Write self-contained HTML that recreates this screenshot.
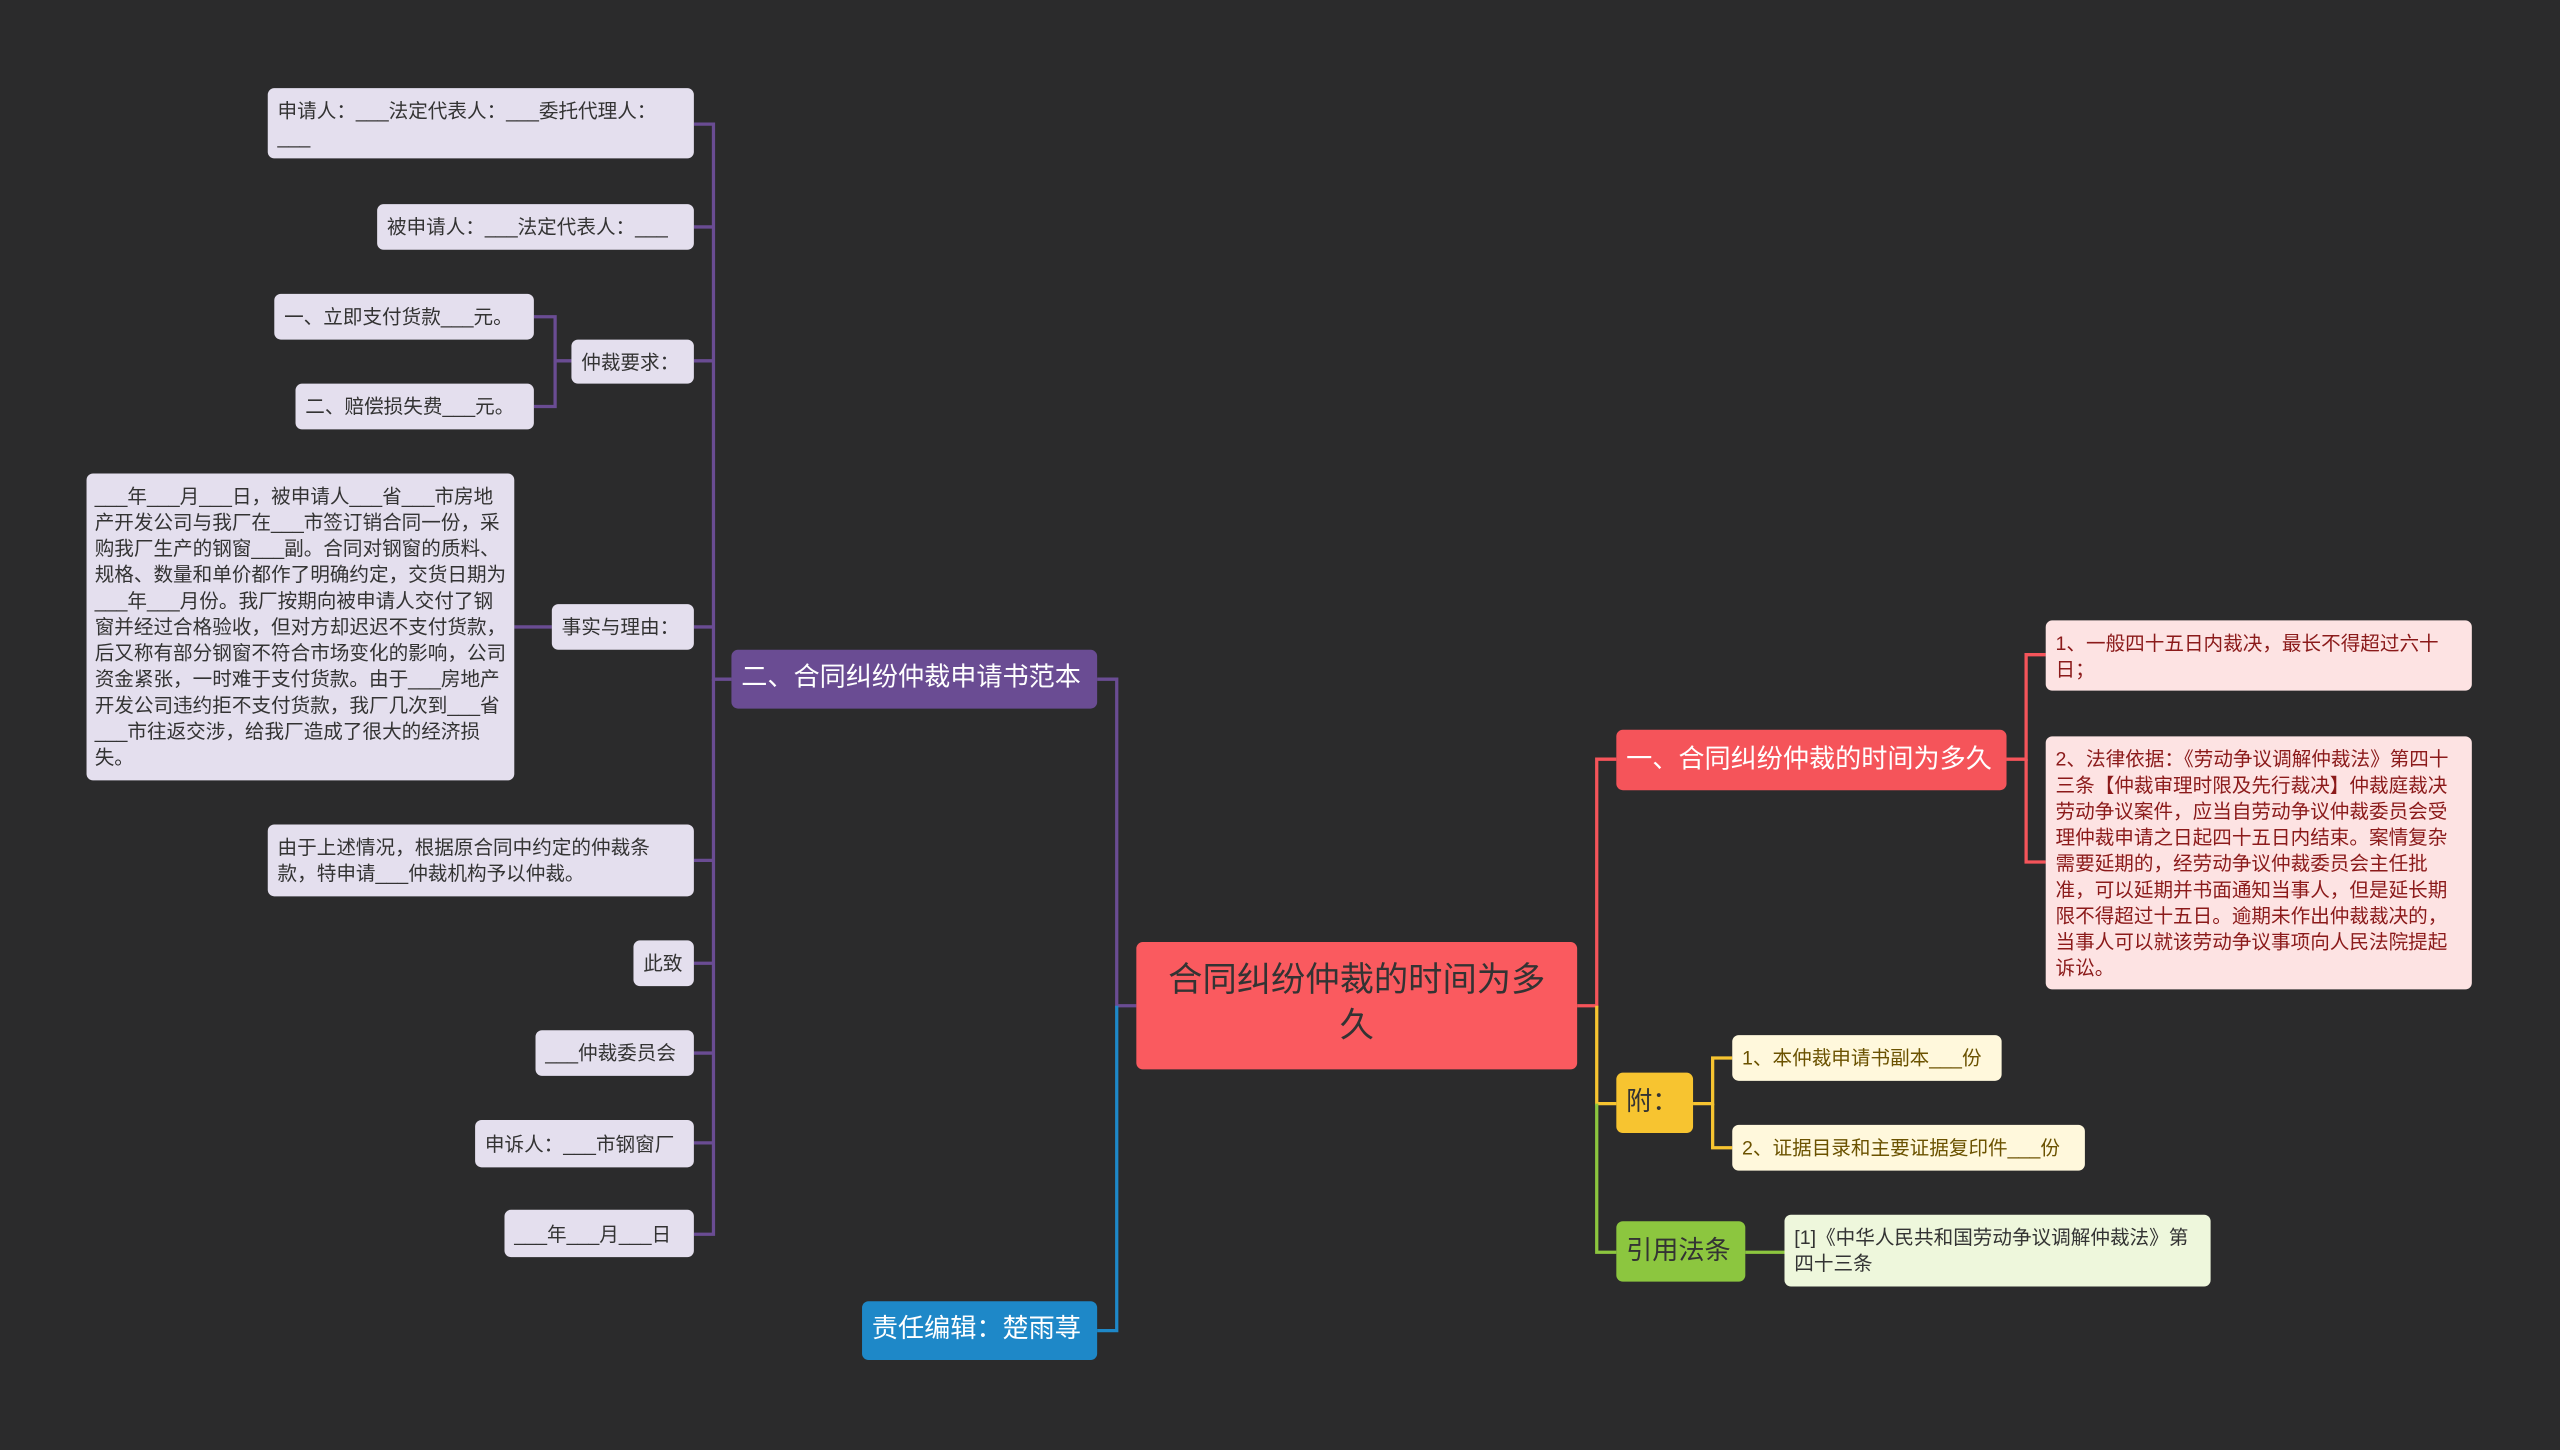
<!DOCTYPE html>
<html><head><meta charset="utf-8"><style>
html,body{margin:0;padding:0;background:#2b2b2c;}
#wrap{width:1568px;height:888px;position:relative;transform:scale(1.63265);transform-origin:0 0;font-family:"Liberation Sans","Noto Sans CJK SC",sans-serif;}
.n{position:absolute;box-sizing:border-box;border-radius:4px;font-size:12px;line-height:16px;padding:6px 6px;color:#333;}
.l{background:#e4dfee;}
.c{display:flex;align-items:center;white-space:nowrap;}
svg{position:absolute;left:0;top:0;}
</style></head><body><div id="wrap">
<svg width="1568" height="888" fill="none" stroke-width="2">
<g stroke="#6a4c93">
<path d="M448 416 H437 V76 H425"/><path d="M437 139 H425"/><path d="M437 221 H425"/><path d="M437 384 H425"/><path d="M437 416 V756 H425"/><path d="M437 527 H425"/><path d="M437 590 H425"/><path d="M437 645 H425"/><path d="M437 700 H425"/>
<path d="M350 221 H340 V194 H327"/><path d="M340 221 V249 H327"/><path d="M338 384 H315"/>
<path d="M696 616 H684 V416 H672"/></g>
<path stroke="#1e88c8" d="M684 616 V815 H672"/>
<g stroke="#f5545a"><path d="M966 616 H978 V465 H990"/><path d="M1229 465 H1241 V401 H1253"/><path d="M1241 465 V528 H1253"/></g>
<g stroke="#f7c430"><path d="M978 616 V676 H990"/><path d="M1037 676 H1049 V648 H1061"/><path d="M1049 676 V703 H1061"/></g>
<g stroke="#8cc63f"><path d="M978 676 V767 H990"/><path d="M1069 767 H1093"/></g>
</svg>
<div class="n" style="left:696px;top:577px;width:270px;height:78px;background:#fa5a5f;font-size:21px;line-height:28px;text-align:center;padding:10px 16px;color:#333;">合同纠纷仲裁的时间为多久</div>
<div class="n c" style="left:448px;top:398px;width:224px;height:36px;background:#6a4c93;color:#fff;font-size:16px;">二、合同纠纷仲裁申请书范本</div>
<div class="n c" style="left:528px;top:797px;width:144px;height:36px;background:#1e88c8;color:#fff;font-size:16px;">责任编辑：楚雨荨</div>
<div class="n c" style="left:990px;top:447px;width:239px;height:37px;background:#f5545a;color:#fff;font-size:16px;">一、合同纠纷仲裁的时间为多久</div>
<div class="n c" style="left:990px;top:657px;width:47px;height:37px;background:#f7c430;font-size:16px;">附：</div>
<div class="n c" style="left:990px;top:748px;width:79px;height:37px;background:#8cc63f;font-size:16px;">引用法条</div>
<div class="n" style="left:1253px;top:380px;width:261px;height:43px;background:#fde3e3;color:#8b1a1a;">1、一般四十五日内裁决，最长不得超过六十日；</div>
<div class="n" style="left:1253px;top:451px;width:261px;height:155px;background:#fde3e3;color:#8b1a1a;">2、法律依据：《劳动争议调解仲裁法》第四十三条【仲裁审理时限及先行裁决】仲裁庭裁决劳动争议案件，应当自劳动争议仲裁委员会受理仲裁申请之日起四十五日内结束。案情复杂需要延期的，经劳动争议仲裁委员会主任批准，可以延期并书面通知当事人，但是延长期限不得超过十五日。逾期未作出仲裁裁决的，当事人可以就该劳动争议事项向人民法院提起诉讼。</div>
<div class="n c" style="left:1061px;top:634px;width:165px;height:28px;background:#fff8dc;color:#6b5200;">1、本仲裁申请书副本___份</div>
<div class="n c" style="left:1061px;top:689px;width:216px;height:28px;background:#fff8dc;color:#6b5200;">2、证据目录和主要证据复印件___份</div>
<div class="n" style="left:1093px;top:744px;width:261px;height:44px;background:#eef7dc;">[1]《中华人民共和国劳动争议调解仲裁法》第四十三条</div>
<div class="n l" style="left:164px;top:54px;width:261px;height:43px;">申请人：___法定代表人：___委托代理人：___</div>
<div class="n l c" style="left:231px;top:125px;width:194px;height:28px;">被申请人：___法定代表人：___</div>
<div class="n l c" style="left:350px;top:208px;width:75px;height:27px;">仲裁要求：</div>
<div class="n l c" style="left:168px;top:180px;width:159px;height:28px;">一、立即支付货款___元。</div>
<div class="n l c" style="left:181px;top:235px;width:146px;height:28px;">二、赔偿损失费___元。</div>
<div class="n l c" style="left:338px;top:370px;width:87px;height:28px;">事实与理由：</div>
<div class="n l" style="left:53px;top:290px;width:262px;height:188px;padding:6px 5px;">___年___月___日，被申请人___省___市房地产开发公司与我厂在___市签订销合同一份，采购我厂生产的钢窗___副。合同对钢窗的质料、规格、数量和单价都作了明确约定，交货日期为___年___月份。我厂按期向被申请人交付了钢窗并经过合格验收，但对方却迟迟不支付货款，后又称有部分钢窗不符合市场变化的影响，公司资金紧张，一时难于支付货款。由于___房地产开发公司违约拒不支付货款，我厂几次到___省___市往返交涉，给我厂造成了很大的经济损失。</div>
<div class="n l" style="left:164px;top:505px;width:261px;height:44px;">由于上述情况，根据原合同中约定的仲裁条款，特申请___仲裁机构予以仲裁。</div>
<div class="n l c" style="left:388px;top:576px;width:37px;height:28px;">此致</div>
<div class="n l c" style="left:328px;top:631px;width:97px;height:28px;">___仲裁委员会</div>
<div class="n l c" style="left:291px;top:686px;width:134px;height:29px;">申诉人：___市钢窗厂</div>
<div class="n l c" style="left:309px;top:741px;width:116px;height:29px;">___年___月___日</div>
</div></body></html>
